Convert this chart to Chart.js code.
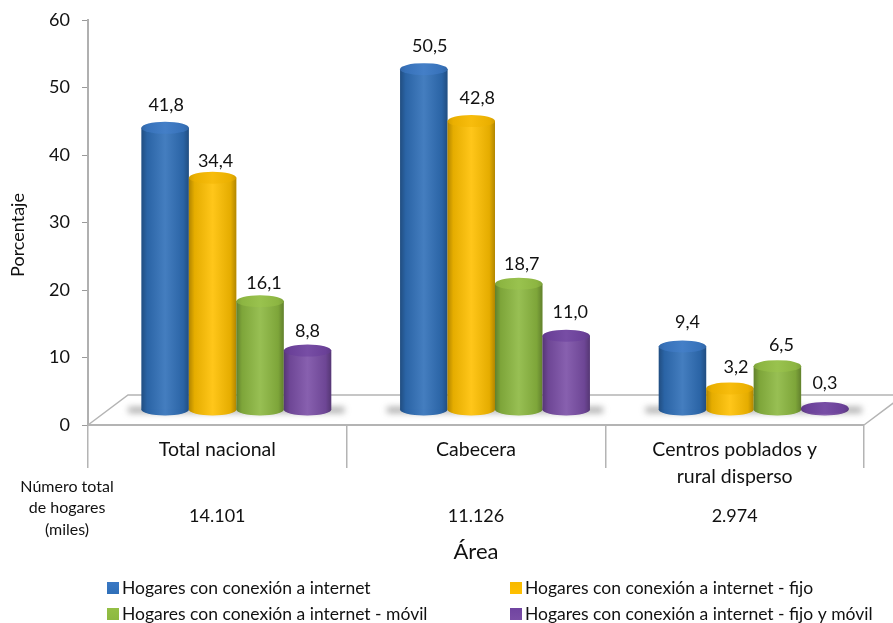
<!DOCTYPE html>
<html lang="es">
<head>
<meta charset="UTF-8">
<title>Hogares con conexión a internet</title>
<script src="https://cdn.jsdelivr.net/npm/chart.js@4"></script>
<style>
    html, body { margin: 0; padding: 0; background: #fff; }
    #wrap { width: 893px; height: 623px; }
</style>
</head>
<body>
<div id="wrap"><canvas id="chart" width="893" height="623"></canvas></div>
<script>
const categories = ['Total nacional', 'Cabecera', ['Centros poblados y', 'rural disperso']];
const totalHogares = ['14.101', '11.126', '2.974'];
const hogaresInternet = [41.8, 50.5, 9.4];
const hogaresFijo = [34.4, 42.8, 3.2];
const hogaresMovil = [16.1, 18.7, 6.5];
const hogaresFijoMovil = [8.8, 11.0, 0.3];
const seriesLabels = [
    'Hogares con conexión a internet',
    'Hogares con conexión a internet - fijo',
    'Hogares con conexión a internet - móvil',
    'Hogares con conexión a internet - fijo y móvil'
];
const seriesColors = ['#2f6fb8', '#ffc000', '#8cb840', '#7a4ea6'];
const topColors = ['#3a78c4', '#f7b900', '#94bf45', '#7044a0'];

const FONT = 'Lato, Carlito, sans-serif';
const DX = 19, DY = -15;   // depth shift of the bars against the axes
const RY = 6;              // ellipse height of the cylinders

// the value labels were placed by hand in the original
const labelDx = [[1, 6, 5], [3, 6, 6], [4, 3, 4], [0, 4, 0]];
const labelDy = [[-3, -3, -4], [3, -3, -1], [2, 0, -1], [1, -4, -5]];

function fmt(v) { return v.toFixed(1).replace('.', ','); }

function shade(ctx, x0, x1) {
    const g = ctx.createLinearGradient(x0, 0, x1, 0);
    g.addColorStop(0, 'rgba(0,0,0,0.30)');
    g.addColorStop(0.12, 'rgba(0,0,0,0.10)');
    g.addColorStop(0.5, 'rgba(255,255,255,0.10)');
    g.addColorStop(0.88, 'rgba(0,0,0,0.10)');
    g.addColorStop(1, 'rgba(0,0,0,0.30)');
    return g;
}

const cylinders = {
    id: 'cylinders',
    beforeDatasetsDraw(chart) {
        const ctx = chart.ctx, a = chart.chartArea;
        const depthX = 40, depthY = 30;
        ctx.save();
        // floor shadows
        ctx.filter = 'blur(3px)';
        ctx.fillStyle = 'rgba(90,90,90,0.5)';
        categories.forEach((c, i) => {
            const cx = chart.scales.x.getPixelForValue(i) + DX;
            ctx.fillRect(cx - 108, a.bottom + DY - 3, 216, 6);
        });
        ctx.filter = 'none';
        // floor outline
        ctx.strokeStyle = '#b4b4b4';
        ctx.lineWidth = 1.5;
        ctx.beginPath();
        ctx.moveTo(a.left, a.bottom);
        ctx.lineTo(a.left + depthX, a.bottom - depthY);
        ctx.lineTo(chart.width, a.bottom - depthY);
        ctx.moveTo(a.right, a.bottom);
        ctx.lineTo(a.right + depthX, a.bottom - depthY);
        ctx.stroke();
        ctx.translate(DX, DY);
        chart.getSortedVisibleDatasetMetas().forEach((meta, di) => {
            meta.data.forEach(el => {
                const half = el.width / 2, x0 = el.x - half, x1 = el.x + half;
                ctx.fillStyle = seriesColors[di];
                ctx.beginPath();
                ctx.ellipse(el.x, el.base, half, RY, 0, 0, Math.PI * 2);
                ctx.fill();
                el.draw(ctx);
                ctx.fillStyle = shade(ctx, x0, x1);
                ctx.beginPath();
                ctx.moveTo(x0, el.y);
                ctx.lineTo(x0, el.base);
                ctx.ellipse(el.x, el.base, half, RY, 0, Math.PI, 0, true);
                ctx.lineTo(x1, el.y);
                ctx.closePath();
                ctx.fill();
                // top cap
                ctx.beginPath();
                ctx.ellipse(el.x, el.y, half, RY, 0, 0, Math.PI * 2);
                ctx.fillStyle = topColors[di];
                ctx.fill();
                ctx.globalAlpha = 0.5;
                ctx.fillStyle = shade(ctx, x0, x1);
                ctx.fill();
                ctx.globalAlpha = 1;
            });
        });
        ctx.restore();
        return false;
    },
    afterDraw(chart) {
        const ctx = chart.ctx, x = chart.scales.x;
        ctx.save();
        ctx.fillStyle = '#111';
        ctx.textAlign = 'center';
        ctx.textBaseline = 'middle';
        // values over the bars
        ctx.font = '18px ' + FONT;
        chart.getSortedVisibleDatasetMetas().forEach((meta, di) => {
            const values = chart.data.datasets[meta.index].data;
            meta.data.forEach((el, i) => {
                ctx.fillText(fmt(values[i]), el.x + DX + labelDx[di][i], el.y + DY - 20 + labelDy[di][i]);
            });
        });
        // totals row
        ctx.font = '18px ' + FONT;
        totalHogares.forEach((t, i) => ctx.fillText(t, x.getPixelForValue(i), 516));
        ctx.font = '16px ' + FONT;
        ctx.fillText('Número total', 67, 487);
        ctx.fillText('de hogares', 67, 508);
        ctx.fillText('(miles)', 67, 530);
        // y axis title
        ctx.save();
        ctx.translate(18, 235);
        ctx.rotate(-Math.PI / 2);
        ctx.font = '18px ' + FONT;
        ctx.fillText('Porcentaje', 0, 0);
        ctx.restore();
        // legend
        ctx.font = '17.5px ' + FONT;
        ctx.textAlign = 'left';
        const lx = [107, 510], ly = [588, 614];
        seriesLabels.forEach((label, i) => {
            const sx = lx[i % 2], sy = ly[i >> 1];
            const g = ctx.createLinearGradient(0, sy - 6, 0, sy + 6);
            g.addColorStop(0, topColors[i]);
            g.addColorStop(1, seriesColors[i]);
            ctx.fillStyle = g;
            ctx.fillRect(sx, sy - 6, 12, 12);
            ctx.fillStyle = '#111';
            ctx.fillText(label, sx + 15, sy);
        });
        ctx.restore();
    }
};

const series = [hogaresInternet, hogaresFijo, hogaresMovil, hogaresFijoMovil];

new Chart(document.getElementById('chart'), {
    type: 'bar',
    data: {
        labels: categories,
        datasets: series.map((data, i) => ({
            label: seriesLabels[i],
            data: data,
            backgroundColor: seriesColors[i],
            borderWidth: 0,
            categoryPercentage: 0.734,
            barPercentage: 1
        }))
    },
    options: {
        responsive: false,
        animation: false,
        layout: { padding: { top: 20, right: 29, left: 0, bottom: 0 } },
        plugins: { legend: { display: false }, tooltip: { enabled: false } },
        scales: {
            x: {
                grid: { offset: true, drawOnChartArea: false, color: '#b4b4b4', tickLength: 43, lineWidth: 1.5 },
                border: { color: '#b4b4b4', width: 2 },
                ticks: { color: '#111', padding: -32, maxRotation: 0, autoSkip: false, font: { family: FONT, size: 19.5, lineHeight: 1.4 } },
                title: { display: true, text: 'Área', color: '#111', font: { family: FONT, size: 22 }, padding: { top: 0, bottom: 58 } },
                afterFit(scale) { scale.height = 198; }
            },
            y: {
                min: 0,
                max: 60,
                ticks: { stepSize: 10, color: '#111', padding: 12, font: { family: FONT, size: 18 } },
                grid: { drawOnChartArea: false, color: '#9a9a9a', tickLength: 6 },
                border: { color: '#b0b0b0', width: 2 },
                afterFit(scale) { scale.width = 88; scale.paddingTop = 0; scale.paddingBottom = 0; }
            }
        }
    },
    plugins: [cylinders]
});
</script>
</body>
</html>
